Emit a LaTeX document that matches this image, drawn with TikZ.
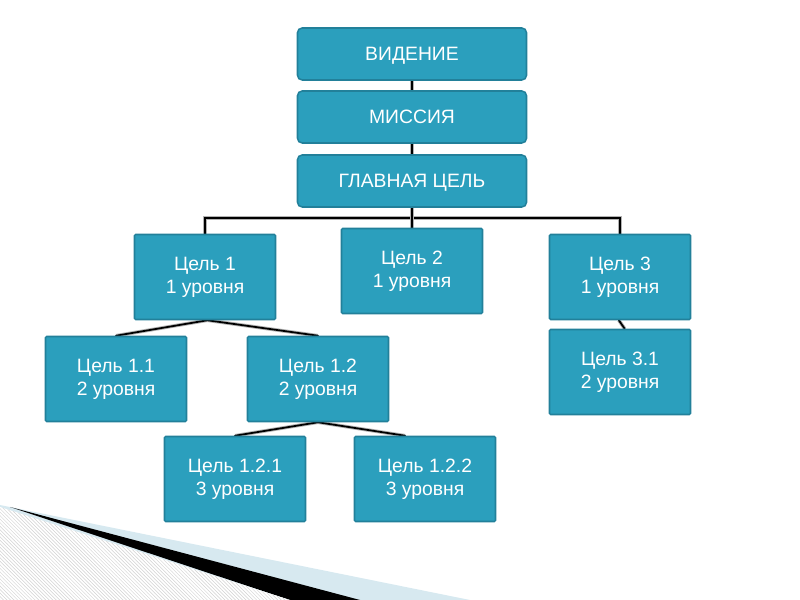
\documentclass[tikz,border=0pt]{standalone}
\usepackage{fontspec}
\setmainfont{Liberation Sans}
\usetikzlibrary{positioning,patterns,backgrounds}
\definecolor{boxF}{HTML}{2B9FBD}
\definecolor{boxD}{HTML}{22809A}
\definecolor{paleB}{HTML}{D7E9F0}
\definecolor{hatchC}{HTML}{D2D2D2}

\begin{document}
\begin{tikzpicture}[
  x=0.03cm, y=-0.03cm,
  font=\fontsize{16.5}{19.6}\selectfont,
  top/.style  ={draw=boxD, fill=boxF, line width=1.3pt, rounded corners=4pt,
                text=white, align=center, minimum width=6.87cm, minimum height=1.56cm,
                text height=11pt, text depth=0pt},
  goal/.style ={draw=boxD, fill=boxF, line width=1.3pt, rounded corners=1pt,
                text=white, align=center, minimum width=4.23cm, minimum height=2.55cm},
  link/.style ={draw=black, line width=1.5pt, line cap=round,
                preaction={draw=black!30, line width=3pt}},
]
\useasboundingbox (0,0) rectangle (800,600);

% ---- geometry --------------------------------------------------------------
\def\rowA{54}  \def\rowB{117} \def\rowC{181}
\def\rowD{277} \def\rowE{379} \def\rowF{479}
\def\cA{116} \def\cB{205} \def\cC{235} \def\cD{318}
\def\cE{412} \def\cF{425} \def\cG{620}

% ---- top column ------------------------------------------------------------
\node[top] (vision)  at (\cE,\rowA) {ВИДЕНИЕ};
\node[top] (mission) at (\cE,\rowB) {МИССИЯ};
\node[top] (main)    at (\cE,\rowC) {ГЛАВНАЯ ЦЕЛЬ};

% ---- level 1 ---------------------------------------------------------------
\node[goal] (g1) at (\cB,\rowD) {Цель 1\\1 уровня};
\node[goal] (g2) at (\cE,271)   {Цель 2\\1 уровня};
\node[goal] (g3) at (\cG,\rowD) {Цель 3\\1 уровня};

% ---- level 2 ---------------------------------------------------------------
\node[goal] (g11) at (\cA,\rowE) {Цель 1.1\\2 уровня};
\node[goal] (g12) at (\cD,\rowE) {Цель 1.2\\2 уровня};
\node[goal] (g31) at (\cG,372)   {Цель 3.1\\2 уровня};

% ---- level 3 ---------------------------------------------------------------
\node[goal] (g121) at (\cC,\rowF) {Цель 1.2.1\\3 уровня};
\node[goal] (g122) at (\cF,\rowF) {Цель 1.2.2\\3 уровня};

% ---- connectors, under the boxes -------------------------------------------
\coordinate (bar) at (\cE,218);
\begin{scope}[on background layer]
  % slide corner
  \fill[paleB] (0,505) -- (470,600) -- (0,600) -- cycle;
  \fill[black] (10,507) -- (360,600) -- (290,600) -- cycle;
  \fill[white] (0,507) -- (290,600) -- (0,600) -- cycle;
  \fill[pattern=north west lines, pattern color=hatchC]
    (0,507) -- (290,600) -- (0,600) -- cycle;

  \draw[link] (vision) -- (mission);
  \draw[link] (mission) -- (main);
  \draw[link] (g1.north) |- (bar) -| (g3.north);
  \draw[link] (main) -- (g2);
  \draw[link] ([xshift=-1pt]g3.south) -- ([xshift=4pt]g31.north);
  \draw[link] (g11.north) -- ([xshift=2pt]g1.south) -- (g12.north);
  \draw[link] (g121.north) -- (g12.south) -- ([xshift=-17pt]g122.north);
\end{scope}

\end{tikzpicture}
\end{document}
